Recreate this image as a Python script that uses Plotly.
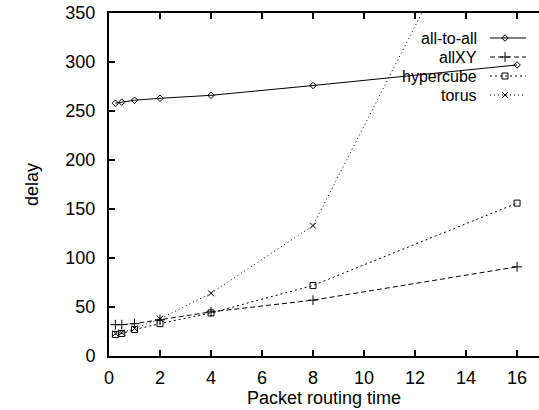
import plotly.graph_objects as go

# ---- data ----
routing_time = [0.25, 0.5, 1, 2, 4, 8, 16]
all_to_all = [258, 259, 261, 263, 266, 276, 297]
all_xy = [32, 32, 33, 37, 45, 57, 91]
hypercube = [22, 23, 27, 33, 44, 72, 156]
torus = [23, 24, 28, 38, 64, 133, 540]

series_names = ["all-to-all", "allXY", "hypercube", "torus"]
x_ticks = [0, 2, 4, 6, 8, 10, 12, 14, 16]
y_ticks = [0, 50, 100, 150, 200, 250, 300, 350]

FONT = "Liberation Sans, Arial, Helvetica, sans-serif"
W, H = 539, 410
ML, MR, MT, MB = 109, 0, 13, 54

styles = {
    "all-to-all": dict(dash="solid", symbol="diamond-open", size=5),
    "allXY": dict(dash="5px,3px", symbol="cross-thin-open", size=7),
    "hypercube": dict(dash="2px,3px", symbol="square-open", size=6),
    "torus": dict(dash="1px,3px", symbol="x-thin-open", size=6),
}
values = {"all-to-all": all_to_all, "allXY": all_xy,
          "hypercube": hypercube, "torus": torus}

fig = go.Figure()
for name in series_names:
    st = styles[name]
    fig.add_trace(go.Scatter(
        x=routing_time, y=values[name], mode="lines+markers", name=name,
        line=dict(color="black", width=1, dash=st["dash"]),
        marker=dict(symbol=st["symbol"], size=st["size"], color="black",
                    line=dict(color="black", width=1)),
        showlegend=False,
    ))

# ---- manual gnuplot-style legend (text left of sample) on a pixel overlay ----
legend_rows = [38, 57, 76, 95]
for name, yrow in zip(series_names, legend_rows):
    st = styles[name]
    fig.add_trace(go.Scatter(
        x=[490, 526], y=[yrow, yrow], mode="lines", xaxis="x2", yaxis="y2",
        line=dict(color="black", width=1, dash=st["dash"]), showlegend=False,
        hoverinfo="skip", cliponaxis=False))
    fig.add_trace(go.Scatter(
        x=[505], y=[yrow], mode="markers", xaxis="x2", yaxis="y2",
        marker=dict(symbol=st["symbol"], size=st["size"], color="black",
                    line=dict(color="black", width=1)),
        showlegend=False, hoverinfo="skip", cliponaxis=False))
    fig.add_annotation(x=479, y=yrow, xref="x2", yref="y2", text=name,
                       showarrow=False, xanchor="right", yanchor="middle",
                       font=dict(family=FONT, size=16, color="black"))

fig.update_layout(
    width=W, height=H, margin=dict(l=ML, r=MR, t=MT, b=MB),
    paper_bgcolor="white", plot_bgcolor="white",
    font=dict(family=FONT, size=18, color="black"),
    xaxis=dict(range=[0, 16.86], tickvals=x_ticks, ticks="inside", ticklen=6,
               tickwidth=1.5, tickcolor="black", showline=True, linewidth=2,
               linecolor="black", mirror="ticks", showgrid=False, zeroline=False,
               ticklabelstandoff=4,
               title=dict(text="Packet routing time", standoff=0,
                          font=dict(size=18))),
    yaxis=dict(range=[0, 350], tickvals=y_ticks, ticks="inside", ticklen=6,
               tickwidth=1.5, tickcolor="black", showline=True, linewidth=2,
               linecolor="black", showgrid=False, zeroline=False,
               ticklabelstandoff=8,
               title=dict(text="delay", standoff=22, font=dict(size=18))),
    xaxis2=dict(range=[ML, W - MR], overlaying="x", visible=False,
                fixedrange=True),
    yaxis2=dict(range=[H - MB, MT], overlaying="y", visible=False,
                fixedrange=True),
)

fig.write_html("out.html")
